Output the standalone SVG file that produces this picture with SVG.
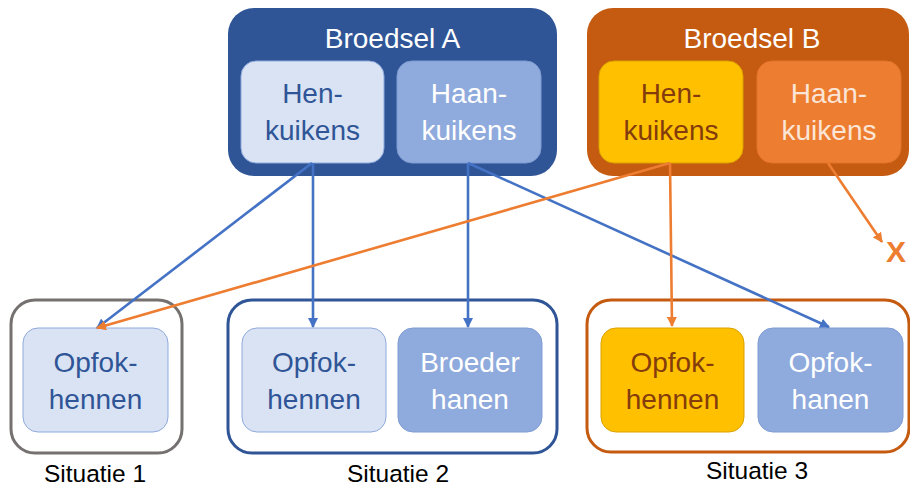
<svg xmlns="http://www.w3.org/2000/svg" width="910" height="486" viewBox="0 0 910 486">
<defs>
<style>
text{font-family:"Liberation Sans",Arial,sans-serif;text-anchor:middle}
.t{font-size:28px}
.s{font-size:24.5px;fill:#000}
.lb{fill:#DAE3F3;stroke:#8FAADC;stroke-width:1}
.mb{fill:#8FAADC;stroke:#7F9CD3;stroke-width:1}
.yb{fill:#FFC000;stroke:#D9A300;stroke-width:1}
.ob{fill:#ED7D31;stroke:#E0742B;stroke-width:1}
.dk{fill:#2F5597}
.wt{fill:#fff}
.br{fill:#843C0C}
.lo{fill:#FBE5D6}
.cb{stroke:#4472C4;stroke-width:2.6;fill:none;marker-end:url(#ab)}
.co{stroke:#ED7D31;stroke-width:2.6;fill:none;marker-end:url(#ao)}
</style>
<marker id="ab" viewBox="0 0 10 10" refX="9" refY="5" markerWidth="10" markerHeight="10" markerUnits="userSpaceOnUse" orient="auto"><path d="M0,0 L10,5 L0,10 z" fill="#4472C4"/></marker>
<marker id="ao" viewBox="0 0 10 10" refX="9" refY="5" markerWidth="10" markerHeight="10" markerUnits="userSpaceOnUse" orient="auto"><path d="M0,0 L10,5 L0,10 z" fill="#ED7D31"/></marker>
</defs>
<rect width="910" height="486" fill="#fff"/>

<g id="broedsel-a">
<rect x="228" y="8" width="329" height="168" rx="26" fill="#2F5597"/>
<text class="t wt" x="392.5" y="48">Broedsel A</text>
</g>
<g id="hen-kuikens-a">
<rect class="lb" x="241" y="61" width="143" height="102" rx="15"/>
<text class="t dk" x="312.5" y="103">Hen-</text>
<text class="t dk" x="312.5" y="140">kuikens</text>
</g>
<g id="haan-kuikens-a">
<rect class="mb" x="397" y="61" width="144" height="102" rx="15"/>
<text class="t wt" x="469" y="103">Haan-</text>
<text class="t wt" x="469" y="140">kuikens</text>
</g>

<g id="broedsel-b">
<rect x="587" y="8" width="322" height="168" rx="26" fill="#C55A11"/>
<text class="t wt" x="752" y="48">Broedsel B</text>
</g>
<g id="hen-kuikens-b">
<rect class="yb" x="599" y="61" width="144" height="102" rx="15"/>
<text class="t br" x="671" y="103">Hen-</text>
<text class="t br" x="671" y="140">kuikens</text>
</g>
<g id="haan-kuikens-b">
<rect class="ob" x="757" y="61" width="144" height="102" rx="15"/>
<text class="t lo" x="829" y="103">Haan-</text>
<text class="t lo" x="829" y="140">kuikens</text>
</g>

<g id="situatie-1">
<rect x="11" y="300" width="171" height="153" rx="24" fill="#fff" stroke="#767171" stroke-width="3"/>
<text class="s" x="95" y="482">Situatie 1</text>
</g>
<g id="opfokhennen-1">
<rect class="lb" x="23" y="328" width="145" height="104" rx="15"/>
<text class="t dk" x="95.5" y="372">Opfok-</text>
<text class="t dk" x="95.5" y="409">hennen</text>
</g>

<g id="situatie-2">
<rect x="228" y="300" width="329" height="153" rx="24" fill="#fff" stroke="#2F5597" stroke-width="3"/>
<text class="s" x="398" y="482">Situatie 2</text>
</g>
<g id="opfokhennen-2">
<rect class="lb" x="242" y="328" width="144" height="104" rx="15"/>
<text class="t dk" x="314" y="372">Opfok-</text>
<text class="t dk" x="314" y="409">hennen</text>
</g>
<g id="broeder-hanen">
<rect class="mb" x="398" y="328" width="144" height="104" rx="15"/>
<text class="t wt" x="470" y="372">Broeder</text>
<text class="t wt" x="470" y="409">hanen</text>
</g>

<g id="situatie-3">
<rect x="587" y="300" width="322" height="152" rx="24" fill="#fff" stroke="#C55A11" stroke-width="3"/>
<text class="s" x="757" y="479">Situatie 3</text>
</g>
<g id="opfokhennen-3">
<rect class="yb" x="601" y="328" width="143" height="104" rx="15"/>
<text class="t br" x="672.5" y="372">Opfok-</text>
<text class="t br" x="672.5" y="409">hennen</text>
</g>
<g id="opfokhanen">
<rect class="mb" x="758" y="328" width="145" height="104" rx="15"/>
<text class="t wt" x="830.5" y="372">Opfok-</text>
<text class="t wt" x="830.5" y="409">hanen</text>
</g>

<g id="x-mark">
<text x="896" y="262" style="font-size:30px;font-weight:bold;fill:#ED7D31">X</text>
</g>

<g id="connectors">
<line class="cb" x1="312" y1="163" x2="97" y2="328"/>
<line class="cb" x1="313" y1="163" x2="313" y2="327"/>
<line class="cb" x1="468" y1="163" x2="468" y2="327"/>
<line class="cb" x1="468" y1="163" x2="829" y2="327"/>
<line class="co" x1="670" y1="163" x2="97" y2="328"/>
<line class="co" x1="670" y1="163" x2="672" y2="326"/>
<line class="co" x1="828" y1="163" x2="882" y2="242"/>
</g>
</svg>
